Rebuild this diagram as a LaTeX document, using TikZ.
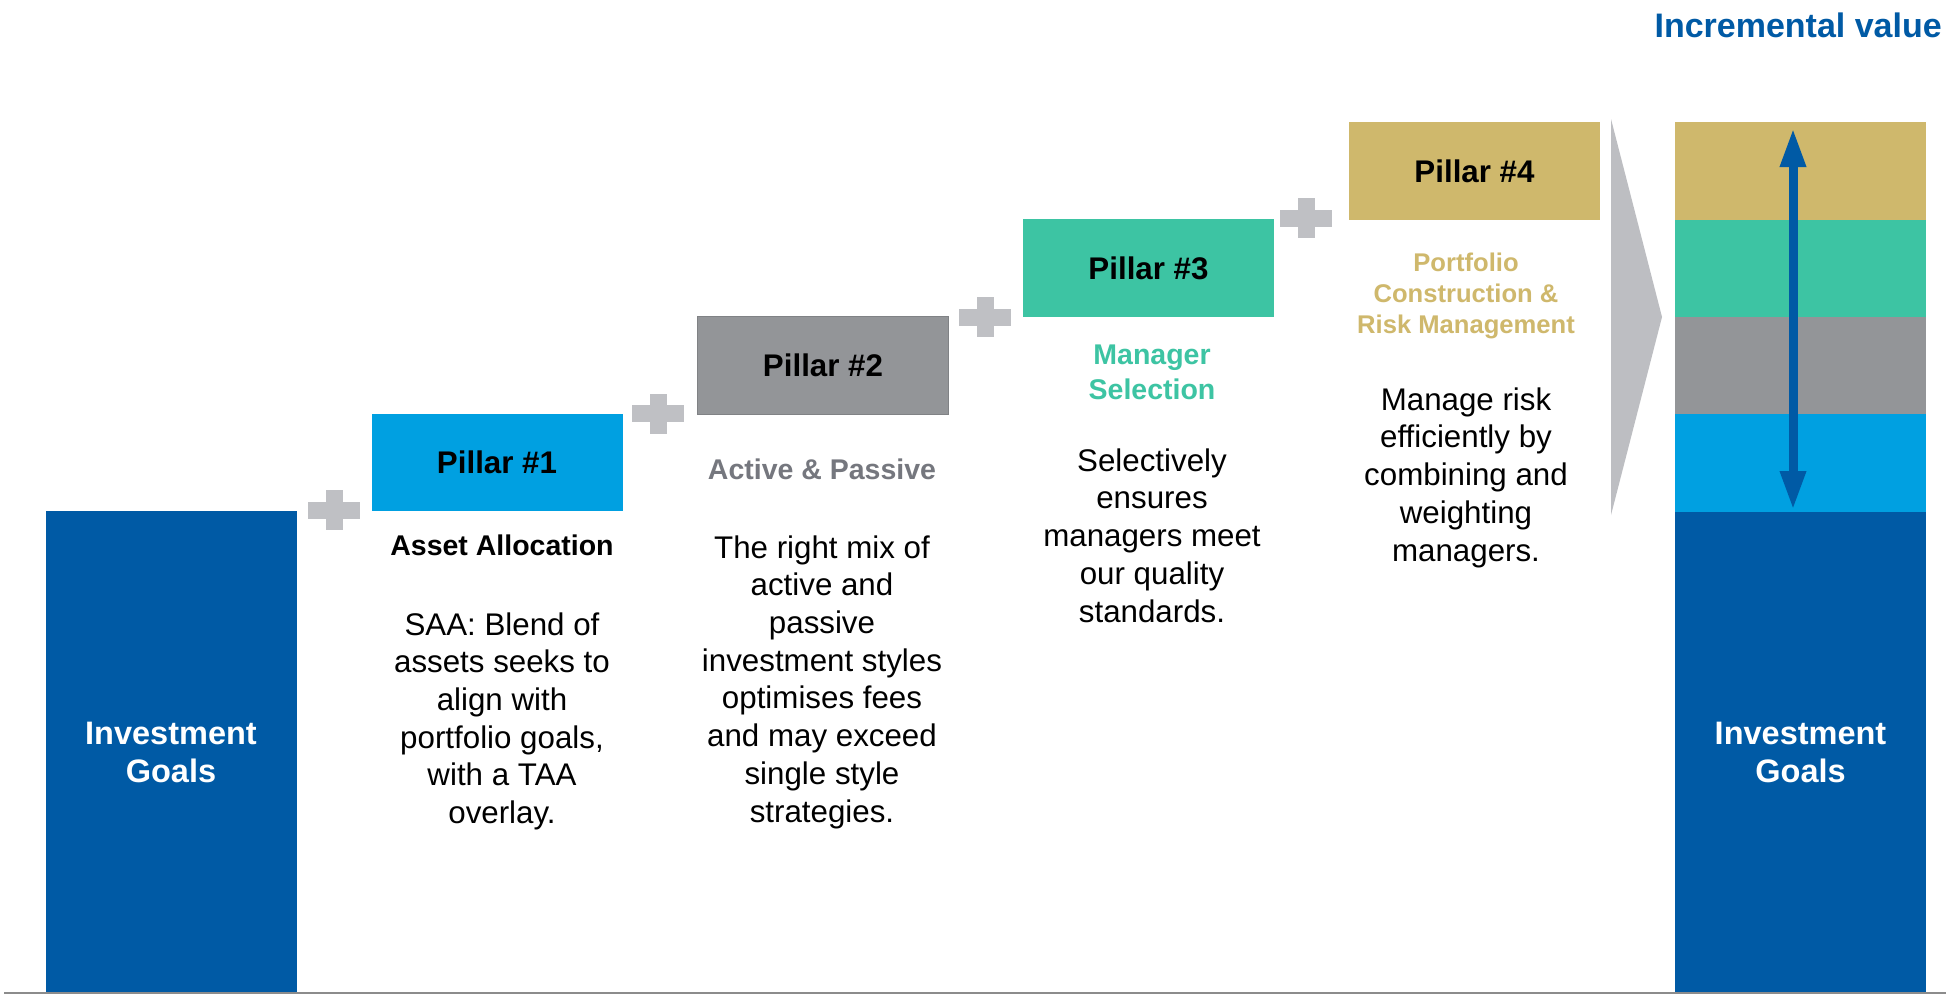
\documentclass[tikz,border=0pt]{standalone}
\usepackage{fontspec}
\setmainfont{Liberation Sans}
\usetikzlibrary{arrows.meta}
\definecolor{dblue}{HTML}{005AA5}
\definecolor{lblue}{HTML}{00A0E1}
\definecolor{pgray}{HTML}{939598}
\definecolor{pgrayedge}{HTML}{808285}
\definecolor{tealc}{HTML}{3DC4A3}
\definecolor{tanc}{HTML}{CFB86C}
\definecolor{plusgray}{HTML}{BFC0C4}
\definecolor{trigray}{HTML}{BDBEC2}
\definecolor{subgray}{HTML}{75777E}
\definecolor{linegray}{HTML}{8C8C8C}
\begin{document}
\begin{tikzpicture}[x=1pt,y=-1pt,
  pillar/.style={minimum width=251pt, minimum height=97.5pt, inner sep=0pt,
    font=\bfseries\fontsize{31.3}{37.6}\selectfont, text=black},
  layer/.style={minimum width=251pt, inner sep=0pt},
  goals/.style={minimum width=251pt, inner sep=0pt, fill=dblue, text=white, align=center,
    font=\bfseries\fontsize{32.5}{38}\selectfont},
  sub/.style={inner sep=0pt, align=center, font=\bfseries\fontsize{28.5}{34.2}\selectfont},
  subsmall/.style={inner sep=0pt, align=center, font=\bfseries\fontsize{25.6}{31}\selectfont},
  body/.style={inner sep=0pt, align=center, text=black, font=\fontsize{31.3}{37.7}\selectfont},
  plusmark/.pic={\fill[plusgray] (-26,-8.5) rectangle (26,8.5);
                 \fill[plusgray] (-8.5,-20) rectangle (8.5,20);}
]
\useasboundingbox[fill=white] (0,0) rectangle (1946,994);

% left bar
\node[goals, minimum height=482pt] (goalsL) at (171,752) {Investment\\Goals};

% pillars
\node[pillar, fill=lblue] (p1) at (497,462.5) {Pillar \#1};
\node[pillar, fill=pgray, draw=pgrayedge, line width=1.2pt] (p2) at (823,365.5) {Pillar \#2};
\node[pillar, fill=tealc] (p3) at (1148.5,268) {Pillar \#3};
\node[pillar, fill=tanc] (p4) at (1474.5,171) {Pillar \#4};

% plus signs
\pic (plus1) at (334,510) {plusmark};
\pic (plus2) at (658,413.5) {plusmark};
\pic (plus3) at (985,317) {plusmark};
\pic (plus4) at (1306,218) {plusmark};

% texts under pillars (anchor = baseline of the last line)
\node[sub, text=black, anchor=base] (s1) at (502,555.5) {Asset Allocation};
\node[body, anchor=base] (b1) at (502,823.5) {SAA: Blend of\\assets seeks to\\align with\\portfolio goals,\\with a TAA\\overlay.};

\node[sub, text=subgray, anchor=base] (s2) at (822,479) {Active \& Passive};
\node[body, anchor=base] (b2) at (822,822) {The right mix of\\active and\\passive\\investment styles\\optimises fees\\and may exceed\\single style\\strategies.};

\node[sub, text=tealc, anchor=base] (s3) at (1152,399) {Manager\\Selection};
\node[body, anchor=base] (b3) at (1152,622) {Selectively\\ensures\\managers meet\\our quality\\standards.};

\node[subsmall, text=tanc, anchor=base] (s4) at (1466,333.5) {Portfolio\\Construction \&\\Risk Management};
\node[body, anchor=base] (b4) at (1466,561) {Manage risk\\efficiently by\\combining and\\weighting\\managers.};

% big chevron
\coordinate (triA) at (1611,119);
\coordinate (triB) at (1662,317);
\coordinate (triC) at (1611,515);
\fill[trigray] (triA) -- (triB) -- (triC) -- cycle;

% right stack
\node[layer, fill=tanc, minimum height=98.5pt] (r4) at (1800.5,171) {};
\node[layer, fill=tealc, minimum height=97.5pt] (r3) at (1800.5,268.5) {};
\node[layer, fill=pgray, minimum height=97.5pt] (r2) at (1800.5,365.5) {};
\node[layer, fill=lblue, minimum height=98.5pt] (r1) at (1800.5,463) {};
\node[goals, minimum height=481pt] (goalsR) at (1800.5,752.5) {Investment\\Goals};

% incremental value arrow
\coordinate (atop) at (1793,128);
\coordinate (abot) at (1793,510);
\draw[dblue, line width=9pt,
  {Triangle[length=39pt,width=24pt]}-{Triangle[length=39pt,width=24pt]}] (atop) -- (abot);

% title
\node[font=\bfseries\fontsize{34}{40}\selectfont, text=dblue, inner sep=0pt, anchor=base east] (title) at (1942,37) {Incremental value};

% bottom rule
\coordinate (ruleL) at (4,993);
\coordinate (ruleR) at (1946,993);
\draw[linegray, line width=2pt] (ruleL) -- (ruleR);
\end{tikzpicture}
\end{document}
